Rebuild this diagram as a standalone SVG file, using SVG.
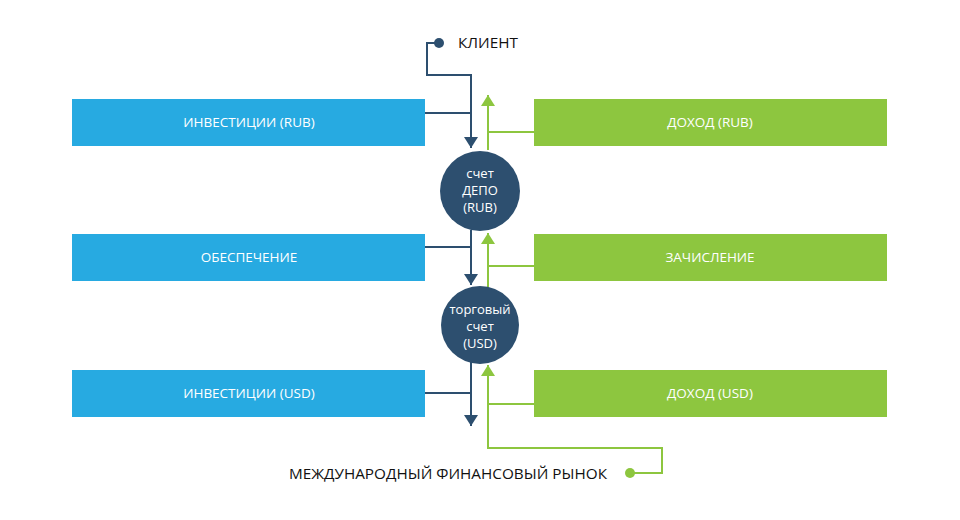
<svg xmlns="http://www.w3.org/2000/svg" width="960" height="520" viewBox="0 0 960 520">
<style>
.blue{fill:#27aae1}
.green{fill:#8dc63f}
.bt{font-family:"Open Sans","DejaVu Sans",sans-serif;font-size:13.5px;fill:#fff;text-anchor:middle}
.ct{font-family:"Open Sans","DejaVu Sans",sans-serif;font-size:13px;fill:#fff;text-anchor:middle}
.lt{font-family:"Open Sans","DejaVu Sans",sans-serif;font-size:15.3px;fill:#111}
.nl{fill:none;stroke:#2d4f6f;stroke-width:2}
.gl{fill:none;stroke:#8dc63f;stroke-width:2}
</style>
<defs>
<marker id="an" markerWidth="13" markerHeight="14" refX="11" refY="7" orient="auto" markerUnits="userSpaceOnUse"><path d="M0,0 L11,7 L0,14 Z" fill="#2d4f6f"/></marker>
<marker id="ag" markerWidth="13" markerHeight="14" refX="11" refY="7" orient="auto" markerUnits="userSpaceOnUse"><path d="M0,0 L11,7 L0,14 Z" fill="#8dc63f"/></marker>
</defs>
<rect width="960" height="520" fill="#fff"/>
<g id="connectors">
<path class="nl" d="M439,43 H427 V75 H471 V148" marker-end="url(#an)"/>
<path class="nl" d="M425,113 H471"/>
<path class="nl" d="M471,230 V285" marker-end="url(#an)"/>
<path class="nl" d="M425,247 H471"/>
<path class="nl" d="M471,362 V426" marker-end="url(#an)"/>
<path class="nl" d="M425,393 H471"/>
<path class="gl" d="M488,150 V95" marker-end="url(#ag)"/>
<path class="gl" d="M534,132 H488"/>
<path class="gl" d="M488,287 V233" marker-end="url(#ag)"/>
<path class="gl" d="M534,266 H488"/>
<path class="gl" d="M630,473 H662 V448 H488 V365" marker-end="url(#ag)"/>
<path class="gl" d="M534,404 H488"/>
</g>
<g id="client">
<circle cx="439" cy="43" r="5" fill="#2d4f6f"/>
<text class="lt" x="458" y="48">КЛИЕНТ</text>
</g>
<g id="market">
<circle cx="630" cy="473" r="5" fill="#8dc63f"/>
<text class="lt" x="607" y="479" text-anchor="end">МЕЖДУНАРОДНЫЙ ФИНАНСОВЫЙ РЫНОК</text>
</g>
<g id="inv-rub"><rect class="blue" x="72" y="99" width="353" height="47"/><text class="bt" x="249" y="127">ИНВЕСТИЦИИ (RUB)</text></g>
<g id="doh-rub"><rect class="green" x="534" y="99" width="353" height="47"/><text class="bt" x="710" y="127">ДОХОД (RUB)</text></g>
<g id="obesp"><rect class="blue" x="72" y="234" width="353" height="47"/><text class="bt" x="249" y="262">ОБЕСПЕЧЕНИЕ</text></g>
<g id="zach"><rect class="green" x="534" y="234" width="353" height="47"/><text class="bt" x="710" y="262">ЗАЧИСЛЕНИЕ</text></g>
<g id="inv-usd"><rect class="blue" x="72" y="370" width="353" height="47"/><text class="bt" x="249" y="398">ИНВЕСТИЦИИ (USD)</text></g>
<g id="doh-usd"><rect class="green" x="534" y="370" width="353" height="47"/><text class="bt" x="710" y="398">ДОХОД (USD)</text></g>
<g id="depo">
<circle cx="480" cy="191" r="40" fill="#2d4f6f"/>
<text class="ct" x="480" y="178">счет</text>
<text class="ct" x="480" y="195">ДЕПО</text>
<text class="ct" x="480" y="212">(RUB)</text>
</g>
<g id="trade">
<circle cx="480" cy="325" r="39" fill="#2d4f6f"/>
<text class="ct" x="480" y="314">торговый</text>
<text class="ct" x="480" y="331">счет</text>
<text class="ct" x="480" y="348">(USD)</text>
</g>
</svg>
